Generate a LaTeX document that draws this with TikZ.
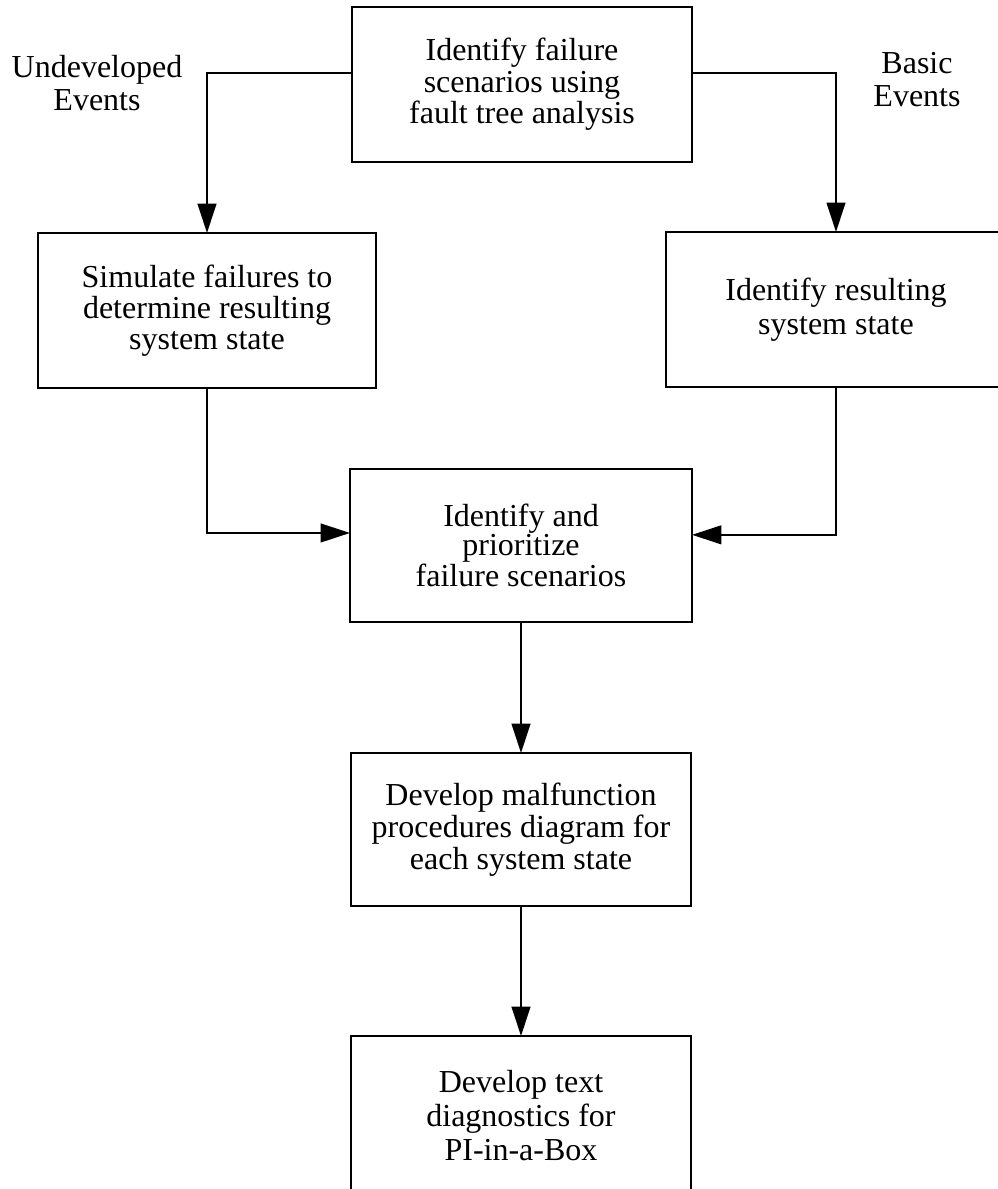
\documentclass[tikz,border=0pt]{standalone}
\usepackage{fontspec}
\setmainfont{Liberation Serif}
\usetikzlibrary{arrows.meta}

\begin{document}
\begin{tikzpicture}[
  x=0.75pt, y=-0.75pt,
  every node/.style={font=\fontsize{24pt}{23.5pt}\selectfont, align=center},
  procbox/.style={draw, line width=1.6pt, inner sep=0pt, outer sep=0pt,
                  minimum width=#1*0.75pt},
  procbox/.default=340,
  tall/.style={minimum height=155*0.75pt},
  flow/.style={line width=1.5pt, -{Triangle[length=22pt, width=14pt]}},
  link/.style={line width=1.5pt},
  tag/.style={font=\fontsize{24pt}{24.75pt}\selectfont, inner sep=0pt}
]
  \useasboundingbox (0,0) rectangle (998,1189);
  \clip (0,0) rectangle (998,1189);

  % process boxes
  \node[procbox=340, tall] (fta) at (522,84.5)
    {Identify failure\\scenarios using\\fault tree analysis};
  \node[procbox=338, tall, font=\fontsize{24pt}{23.25pt}\selectfont] (sim) at (207,310.5)
    {Simulate failures to\\determine resulting\\system state};
  \node[procbox=340, tall, font=\fontsize{24pt}{25.5pt}\selectfont] (res) at (836,309.5)
    {Identify resulting\\system state};
  \node[procbox=342, minimum height=153*0.75pt, font=\fontsize{24pt}{21.75pt}\selectfont] (pri) at (521,545.5)
    {Identify and\\prioritize\\failure scenarios};
  \node[procbox=340, minimum height=153*0.75pt, font=\fontsize{24pt}{24pt}\selectfont] (mpd) at (521,829.5)
    {Develop malfunction\\procedures diagram for\\each system state};
  \node[procbox=340, minimum height=159*0.75pt, font=\fontsize{24pt}{25.5pt}\selectfont] (txt) at (521,1115.5)
    {Develop text\\diagnostics for\\PI-in-a-Box};

  % branch labels
  \node[tag] (undev) at (97,83) {Undeveloped\\Events};
  \node[tag] (basic) at (917,80) {Basic\\Events};

  % connectors
  \draw[flow] ([yshift=8.6pt]fta.west) -| (sim.north);
  \draw[flow] ([yshift=8.6pt]fta.east) -| (res.north);
  \draw[flow] (sim.south) |- ([yshift=9.4pt]pri.west);
  \draw[flow] (res.south) |- ([yshift=8pt]pri.east);
  \draw[flow] (pri.south) -- (mpd.north);
  \draw[flow] (mpd.south) -- (txt.north);
\end{tikzpicture}
\end{document}
